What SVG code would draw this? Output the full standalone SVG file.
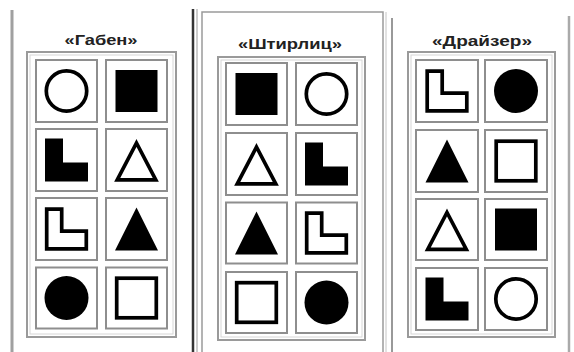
<svg xmlns="http://www.w3.org/2000/svg" xmlns:xlink="http://www.w3.org/1999/xlink" width="574" height="352" viewBox="0 0 574 352">
<style>
.frame{fill:#fff;stroke:#9a9a9a;stroke-width:2}
.frame2{fill:none;stroke:#d6d6d6;stroke-width:1}
.cell{fill:#fff;stroke:#8e8e8e;stroke-width:2}
.title{font-family:"Liberation Sans",Arial,sans-serif;font-weight:bold;font-size:14.5px;fill:#222;text-anchor:middle}
.f{fill:#000;stroke:none}
.o{fill:#fff;stroke:#000;stroke-width:3.7;stroke-linejoin:miter}
</style>
<defs>
<circle id="circO" class="o" r="20.2"/>
<circle id="circF" class="f" r="22"/>
<rect id="sqF" class="f" x="-21" y="-21" width="42" height="42"/>
<rect id="sqO" class="o" x="-19.8" y="-19.8" width="39.6" height="39.6"/>
<polygon id="triF" class="f" points="0,-21.5 21.5,21.5 -21.5,21.5"/>
<polygon id="triO" class="o" points="0,-17 19.3,19.8 -19.3,19.8"/>
<path id="LF" class="f" d="M-21.5,-21.5 h18 v24 h25 v19 h-43 z"/>
<path id="LO" class="o" d="M-19.8,-19.8 h15 v22 h24.6 v17.6 h-39.6 z"/>
</defs>
<rect width="574" height="352" fill="#fff"/>
<g id="panel-lines" fill="none">
<line x1="12" y1="10" x2="12" y2="352" stroke="#a0a0a0" stroke-width="3"/>
<line x1="193" y1="9" x2="193" y2="352" stroke="#333" stroke-width="2.5"/>
<line x1="197" y1="9" x2="197" y2="352" stroke="#999" stroke-width="1"/>
<path d="M202,352 V12 H383 V352" stroke="#9a9a9a" stroke-width="1.5"/>
<line x1="386" y1="12" x2="386" y2="352" stroke="#c4c4c4" stroke-width="1"/>
<line x1="392" y1="18" x2="392" y2="352" stroke="#999" stroke-width="2"/>
<line x1="569" y1="16" x2="569" y2="352" stroke="#aaa" stroke-width="2.5"/>
</g>

<g id="panel-gaben">
<text class="title" x="101" y="45" textLength="73" lengthAdjust="spacingAndGlyphs">«Габен»</text>
<rect class="frame" x="27" y="52" width="149" height="285"/>
<rect class="frame2" x="30" y="55" width="143" height="279"/>
<g id="g11" transform="translate(66.5,91)"><rect class="cell" x="-30.5" y="-31" width="61" height="62"/><use xlink:href="#circO"/></g>
<g id="g12" transform="translate(136.5,91)"><rect class="cell" x="-30.5" y="-31" width="61" height="62"/><use xlink:href="#sqF"/></g>
<g id="g21" transform="translate(66.5,160)"><rect class="cell" x="-30.5" y="-31" width="61" height="62"/><use xlink:href="#LF"/></g>
<g id="g22" transform="translate(136.5,160)"><rect class="cell" x="-30.5" y="-31" width="61" height="62"/><use xlink:href="#triO"/></g>
<g id="g31" transform="translate(66.5,229)"><rect class="cell" x="-30.5" y="-31" width="61" height="62"/><use xlink:href="#LO"/></g>
<g id="g32" transform="translate(136.5,229)"><rect class="cell" x="-30.5" y="-31" width="61" height="62"/><use xlink:href="#triF"/></g>
<g id="g41" transform="translate(66.5,298)"><rect class="cell" x="-30.5" y="-30.5" width="61" height="61"/><use xlink:href="#circF"/></g>
<g id="g42" transform="translate(136.5,298)"><rect class="cell" x="-30.5" y="-30.5" width="61" height="61"/><use xlink:href="#sqO"/></g>
</g>

<g id="panel-shtirlits">
<text class="title" x="290" y="49" textLength="104" lengthAdjust="spacingAndGlyphs">«Штирлиц»</text>
<rect class="frame" x="218" y="57" width="147" height="283"/>
<rect class="frame2" x="221" y="60" width="141" height="277"/>
<g id="s11" transform="translate(256.5,94)"><rect class="cell" x="-30.5" y="-31" width="61" height="62"/><use xlink:href="#sqF"/></g>
<g id="s12" transform="translate(326.5,94)"><rect class="cell" x="-30.5" y="-31" width="61" height="62"/><use xlink:href="#circO"/></g>
<g id="s21" transform="translate(256.5,164)"><rect class="cell" x="-30.5" y="-31" width="61" height="62"/><use xlink:href="#triO"/></g>
<g id="s22" transform="translate(326.5,164)"><rect class="cell" x="-30.5" y="-31" width="61" height="62"/><use xlink:href="#LF"/></g>
<g id="s31" transform="translate(256.5,233)"><rect class="cell" x="-30.5" y="-30.5" width="61" height="61"/><use xlink:href="#triF"/></g>
<g id="s32" transform="translate(326.5,233)"><rect class="cell" x="-30.5" y="-30.5" width="61" height="61"/><use xlink:href="#LO"/></g>
<g id="s41" transform="translate(256.5,302.5)"><rect class="cell" x="-30.5" y="-30.5" width="61" height="61"/><use xlink:href="#sqO"/></g>
<g id="s42" transform="translate(326.5,302.5)"><rect class="cell" x="-30.5" y="-30.5" width="61" height="61"/><use xlink:href="#circF"/></g>
</g>

<g id="panel-draizer">
<text class="title" x="482" y="46" textLength="100" lengthAdjust="spacingAndGlyphs">«Драйзер»</text>
<rect class="frame" x="408" y="52" width="147" height="285"/>
<rect class="frame2" x="411" y="55" width="141" height="279"/>
<g id="d11" transform="translate(447,91)"><rect class="cell" x="-31" y="-31" width="62" height="62"/><use xlink:href="#LO"/></g>
<g id="d12" transform="translate(516,91)"><rect class="cell" x="-31" y="-31" width="62" height="62"/><use xlink:href="#circF"/></g>
<g id="d21" transform="translate(447,161)"><rect class="cell" x="-31" y="-31" width="62" height="62"/><use xlink:href="#triF"/></g>
<g id="d22" transform="translate(516,161)"><rect class="cell" x="-31" y="-31" width="62" height="62"/><use xlink:href="#sqO"/></g>
<g id="d31" transform="translate(447,229.5)"><rect class="cell" x="-31" y="-30.5" width="62" height="61"/><use xlink:href="#triO"/></g>
<g id="d32" transform="translate(516,229.5)"><rect class="cell" x="-31" y="-30.5" width="62" height="61"/><use xlink:href="#sqF"/></g>
<g id="d41" transform="translate(447,299)"><rect class="cell" x="-31" y="-31" width="62" height="62"/><use xlink:href="#LF"/></g>
<g id="d42" transform="translate(516,299)"><rect class="cell" x="-31" y="-31" width="62" height="62"/><use xlink:href="#circO"/></g>
</g>
</svg>
